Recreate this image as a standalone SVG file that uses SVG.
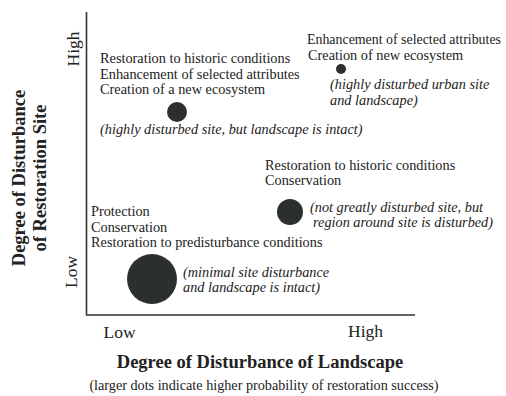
<svg xmlns="http://www.w3.org/2000/svg" width="506" height="396" viewBox="0 0 506 396">
<style>
text{font-family:"Liberation Serif","Times New Roman",serif;fill:#222;font-size:14.3px}
.it{font-style:italic}
.b{font-weight:bold;font-size:18.5px}
.t{font-size:17.5px}
.dot{fill:#2b302f}
.ax{stroke:#333;stroke-width:1.6;fill:none}
</style>
<rect width="506" height="396" fill="#fff"/>
<g id="axes">
<path class="ax" d="M86.5,12 V315 H415"/>
<text class="t" transform="translate(79,49) rotate(-90)" text-anchor="middle">High</text>
<text class="t" transform="translate(77,272) rotate(-90)" text-anchor="middle">Low</text>
<text class="t" x="119.5" y="337.5" text-anchor="middle">Low</text>
<text class="t" x="365.5" y="337" text-anchor="middle">High</text>
<text class="b" transform="translate(25,178) rotate(-90)" text-anchor="middle">Degree of Disturbance</text>
<text class="b" transform="translate(46,178) rotate(-90)" text-anchor="middle">of Restoration Site</text>
<text class="b" x="260" y="368" text-anchor="middle">Degree of Disturbance of Landscape</text>
<text x="264" y="390" text-anchor="middle" style="font-size:14.2px">(larger dots indicate higher probability of restoration success)</text>
</g>
<g id="node-high-high">
<circle class="dot" cx="341" cy="69" r="5"/>
<text x="307" y="44" textLength="194" lengthAdjust="spacingAndGlyphs">Enhancement of selected attributes</text>
<text x="308" y="60">Creation of new ecosystem</text>
<text class="it" x="330" y="89">(highly disturbed urban site</text>
<text class="it" x="330" y="105">and landscape)</text>
</g>
<g id="node-low-high">
<circle class="dot" cx="177" cy="112" r="10"/>
<text x="100" y="63">Restoration to historic conditions</text>
<text x="100" y="78.5">Enhancement of selected attributes</text>
<text x="100" y="94">Creation of a new ecosystem</text>
<text class="it" x="100" y="134">(highly disturbed site, but landscape is intact)</text>
</g>
<g id="node-high-low">
<circle class="dot" cx="290" cy="212" r="13"/>
<text x="265" y="170">Restoration to historic conditions</text>
<text x="265" y="185">Conservation</text>
<text class="it" x="310" y="212">(not greatly disturbed site, but</text>
<text class="it" x="313" y="227">region around site is disturbed)</text>
</g>
<g id="node-low-low">
<circle class="dot" cx="152" cy="279" r="25"/>
<text x="91" y="216">Protection</text>
<text x="91" y="232">Conservation</text>
<text x="91" y="247">Restoration to predisturbance conditions</text>
<text class="it" x="183" y="277">(minimal site disturbance</text>
<text class="it" x="183" y="292">and landscape is intact)</text>
</g>
<g id="connectors"></g>
</svg>
